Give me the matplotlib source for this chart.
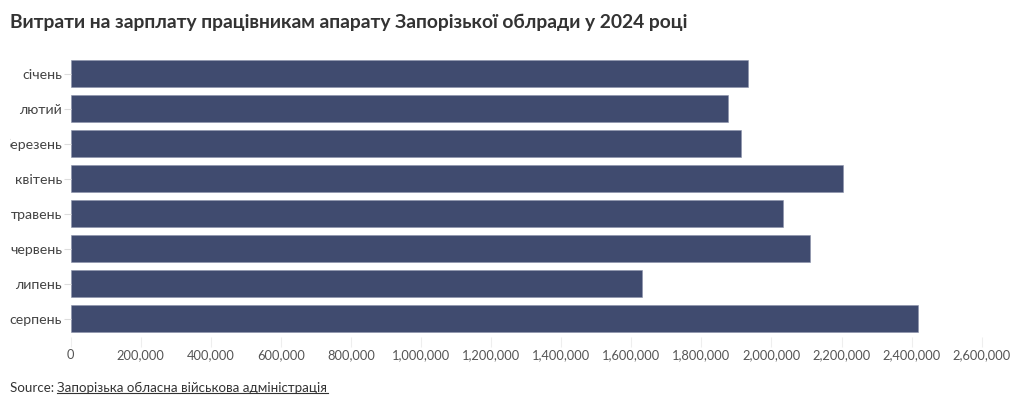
import matplotlib
matplotlib.use("Agg")
import matplotlib.pyplot as plt
from matplotlib.ticker import FuncFormatter
from matplotlib.transforms import Bbox

# monthly salary spending, UAH
months = ["січень", "лютий", "березень", "квітень", "травень", "червень", "липень", "серпень"]
spend = [1934000, 1876000, 1913000, 2203000, 2033000, 2111000, 1631000, 2417000]
xticks = list(range(0, 2600001, 200000))

plt.rcParams['font.family'] = ['Lato', 'DejaVu Sans']

fig = plt.figure(figsize=(10.2, 4.07), dpi=100)
W, H = 1020, 407
# axes placed in pixel coords
x0, x1 = 70.5, 999.3
ytop, ybot = 56, 336.5
ax = fig.add_axes([x0 / W, 1 - ybot / H, (x1 - x0) / W, (ybot - ytop) / H])

ax.barh(range(len(months)), spend, height=0.77, color='#404b6f',
        edgecolor='#8a92ab', linewidth=0.4)
ax.set_ylim(len(months) - 0.5, -0.5)
ax.set_xlim(0, 2650000)
ax.set_yticks(range(len(months)))
ax.set_yticklabels(months)
ax.set_xticks(xticks)
ax.xaxis.set_major_formatter(FuncFormatter(lambda v, p: f"{int(v):,}"))

for s in ax.spines.values():
    s.set_visible(False)
ax.tick_params(axis='y', length=5, color='#dddddd', labelsize=10.2, labelcolor='#444444', pad=1)
ax.tick_params(axis='x', length=7, color='#eeeeee', labelsize=9.3, labelcolor='#555555', pad=2)

# labels get cut at the left margin like in the original embed
clip = Bbox.from_extents(10, 0, W, H)
for lab in ax.get_yticklabels():
    lab.set_clip_on(True)
    lab.set_clip_box(clip)

fig.text(10 / W, 1 - 22 / H, "Витрати на зарплату працівникам апарату Запорізької облради у 2024 році",
         fontsize=13.9, fontweight='bold', color='#333333', va='center', ha='left')

src1 = fig.text(10 / W, 1 - 388 / H, "Source: ", fontsize=9.6, color='#333333', va='center', ha='left')
fig.canvas.draw()
r = fig.canvas.get_renderer()
bb = src1.get_window_extent(r)
src2 = fig.text(bb.x1 / W, 1 - 388 / H, "Запорізька обласна військова адміністрація",
                fontsize=9.6, color='#333333', va='center', ha='left')
bb2 = src2.get_window_extent(r)
uy = (bb2.y0 + 1) / H
fig.add_artist(plt.Line2D([bb2.x0 / W, bb2.x1 / W], [uy, uy], color='#333333', linewidth=0.8))

fig.savefig("out.png", dpi=100)
